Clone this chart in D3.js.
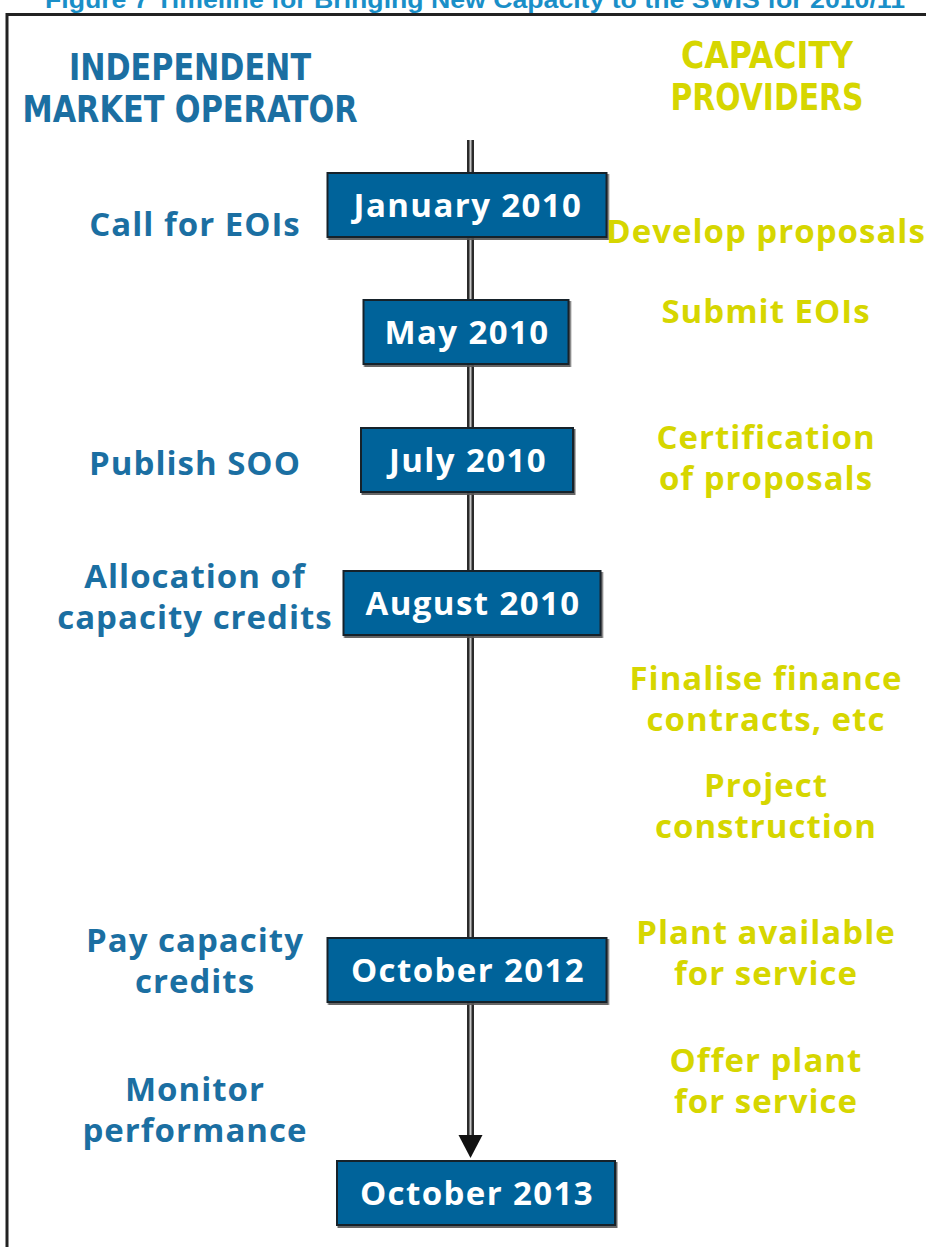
<!DOCTYPE html>
<html lang="en">
<head>
<meta charset="utf-8">
<title>Timeline for Bringing New Capacity to the SWIS</title>
<script src="https://cdn.jsdelivr.net/npm/d3@7"></script>
<style>
  body { margin: 0; background: #fff; }
  svg text { text-anchor: middle; }
  .title { font-family: "Liberation Sans", Arial, sans-serif; font-weight: bold; font-size: 24px; fill: #1a8fc8; }
  .head { font-family: "Liberation Sans Narrow", "DejaVu Sans Condensed", sans-serif; font-weight: bold; font-size: 38px; }
  .task { font-family: "Open Sans", sans-serif; font-weight: bold; font-size: 33px; letter-spacing: 1px; }
  .date { font-family: "Open Sans", sans-serif; font-weight: bold; font-size: 33px; fill: #fff; letter-spacing: 1.4px; }
</style>
</head>
<body>
<script>
// data
var title = "Figure 7 Timeline for Bringing New Capacity to the SWIS for 2010/11";
var headers = [["INDEPENDENT", "MARKET OPERATOR"], ["CAPACITY", "PROVIDERS"]];
var milestones = ["January 2010", "May 2010", "July 2010", "August 2010", "October 2012", "October 2013"];
var imoTasks = [["Call for EOIs"], ["Publish SOO"], ["Allocation of", "capacity credits"],
                ["Pay capacity", "credits"], ["Monitor", "performance"]];
var providerTasks = [["Develop proposals"], ["Submit EOIs"], ["Certification", "of proposals"],
                     ["Finalise finance", "contracts, etc"], ["Project", "construction"],
                     ["Plant available", "for service"], ["Offer plant", "for service"]];

// layout
var w = 926, h = 1247;
var blue = "#1b6fa2", yellow = "#d6d600", boxFill = "#00649a";
var lineGap = 41;

var dateY = d3.scaleOrdinal().domain(milestones).range([205, 332, 460, 603, 970, 1193]);
var dateX = d3.scaleOrdinal().domain(milestones).range([467, 466, 467, 472, 467, 476]);
var dateW = d3.scaleOrdinal().domain(milestones).range([279, 205, 212, 257, 279, 278]);
var imoY = d3.scaleOrdinal().domain(imoTasks.map(String)).range([224, 463, 597, 961, 1110]);
var provY = d3.scaleOrdinal().domain(providerTasks.map(String)).range([231, 311, 458, 699, 806, 953, 1081]);
var colX = d3.scaleOrdinal().domain(["left", "right"]).range([195, 766]);

var svg = d3.select("body").append("svg")
  .attr("width", w).attr("height", h);

svg.append("defs").append("filter").attr("id", "shadow")
  .append("feDropShadow")
  .attr("dx", 1.5).attr("dy", 2).attr("stdDeviation", 0.6)
  .attr("flood-color", "#555").attr("flood-opacity", 0.9);

// title (cropped at the top, as in the source)
svg.append("text").attr("class", "title")
  .attr("x", 475).attr("y", 8)
  .attr("textLength", 860).attr("lengthAdjust", "spacingAndGlyphs")
  .text(title);

// frame
svg.append("rect")
  .attr("x", 7).attr("y", 14.5)
  .attr("width", w + 20).attr("height", h + 20)
  .attr("fill", "none").attr("stroke", "#222").attr("stroke-width", 3);

// headers
var headColors = [blue, yellow];
var headTop = [[80, 122], [68, 110]];
var headLen = [[242, 335], [172, 193]];
headers.forEach(function(lines, i) {
  svg.selectAll(null).data(lines).enter().append("text")
    .attr("class", "head")
    .attr("x", i ? 767 : 190)
    .attr("y", function(d, j) { return headTop[i][j]; })
    .attr("textLength", function(d, j) { return headLen[i][j]; })
    .attr("lengthAdjust", "spacingAndGlyphs")
    .attr("fill", headColors[i])
    .text(function(d) { return d; });
});

// timeline spine
var spineX = 470.5;
var ends = d3.extent(milestones, dateY);
svg.append("line")
  .attr("x1", spineX).attr("x2", spineX)
  .attr("y1", 140).attr("y2", ends[1] - 57)
  .attr("stroke", "#2a2a2a").attr("stroke-width", 7);
svg.append("line")
  .attr("x1", spineX).attr("x2", spineX)
  .attr("y1", 140).attr("y2", ends[1] - 57)
  .attr("stroke", "#c8c8c8").attr("stroke-width", 2);
svg.append("path")
  .attr("d", d3.line()([[spineX - 12, ends[1] - 58], [spineX + 12, ends[1] - 58], [spineX, ends[1] - 35]]) + "Z")
  .attr("fill", "#111");

// milestone boxes
var boxes = svg.selectAll("g.box").data(milestones).enter().append("g")
  .attr("class", "box")
  .attr("transform", function(d) { return "translate(" + dateX(d) + "," + dateY(d) + ")"; });
boxes.append("rect")
  .attr("x", function(d) { return -dateW(d) / 2; })
  .attr("y", -32)
  .attr("width", dateW).attr("height", 64)
  .attr("fill", boxFill).attr("stroke", "#16232c").attr("stroke-width", 2)
  .attr("filter", "url(#shadow)");
boxes.append("text").attr("class", "date")
  .attr("x", 1).attr("y", 0).attr("dy", "0.36em")
  .text(function(d) { return d; });

// task labels
function drawTasks(tasks, yScale, side, color) {
  var g = svg.selectAll(null).data(tasks).enter().append("g")
    .attr("transform", function(d) {
      return "translate(" + colX(side) + "," + yScale(String(d)) + ")";
    });
  g.selectAll("text").data(function(d) { return d; }).enter().append("text")
    .attr("class", "task")
    .attr("fill", color)
    .attr("y", function(d, i, n) { return (i - (n.length - 1) / 2) * lineGap; })
    .attr("dy", "0.36em")
    .text(function(d) { return d; });
}
drawTasks(imoTasks, imoY, "left", blue);
drawTasks(providerTasks, provY, "right", yellow);
</script>
</body>
</html>
